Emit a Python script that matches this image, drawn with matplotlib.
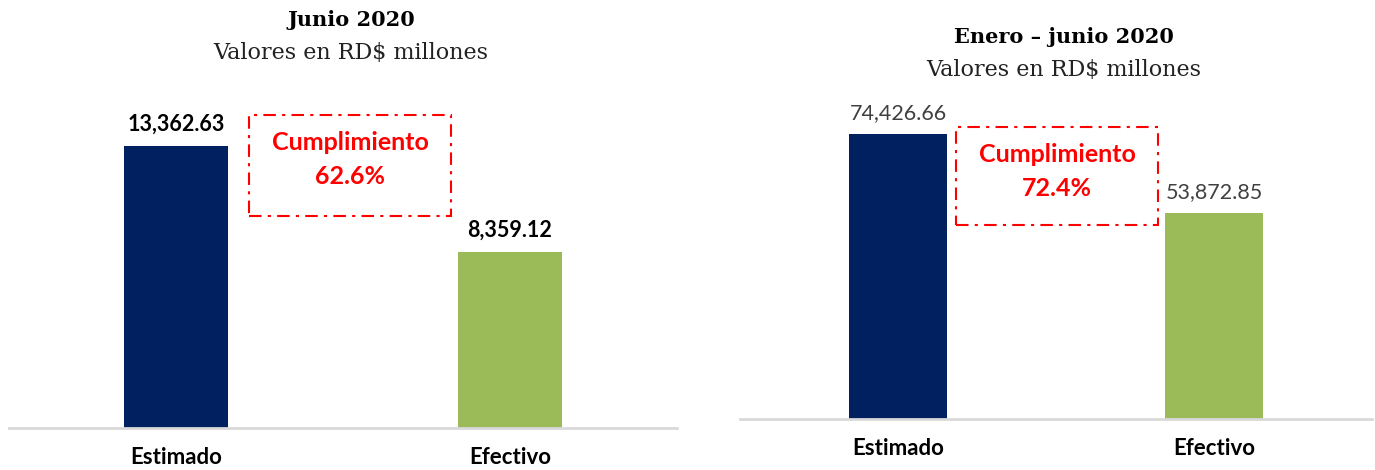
import matplotlib.pyplot as plt
from matplotlib.patches import Rectangle

# data
categories = ["Estimado", "Efectivo"]
junio_vals = [13362.63, 8359.12]
enero_junio_vals = [74426.66, 53872.85]
junio_cumpl = 62.6
enero_junio_cumpl = 72.4

navy = "#002060"
green = "#9BBB59"
red = "#FF0000"

W, H = 1375, 470
fig = plt.figure(figsize=(W / 100, H / 100), dpi=100)


def fx(x):
    return x / W


def fy(y):
    return 1 - y / H


def panel(x0, x1, base, top, vals, ymax, title, cumpl, box, title_y, bold_vals):
    ax = fig.add_axes([fx(x0), fy(base), fx(x1 - x0), (base - top) / H])
    bars = ax.bar(range(len(vals)), vals, width=0.31, color=[navy, green])
    ax.set_xlim(-0.5, 1.5)
    ax.set_ylim(0, ymax)
    for s in ["top", "right", "left"]:
        ax.spines[s].set_visible(False)
    ax.spines["bottom"].set_color("#D9D9D9")
    ax.spines["bottom"].set_linewidth(2)
    ax.set_yticks([])
    ax.set_xticks(range(len(vals)))
    ax.set_xticklabels(categories, fontsize=16, fontweight="bold", family="Lato")
    ax.tick_params(axis="x", length=0, pad=14)

    lbls = [f"{v:,.2f}" for v in vals]
    if bold_vals:
        ax.bar_label(bars, labels=lbls, padding=8, fontsize=15.5, fontweight="bold",
                     color="black", family="Lato")
    else:
        ax.bar_label(bars, labels=lbls, padding=8, fontsize=15.5,
                     color="#404040", family="Lato")

    cx = (x0 + x1) / 2 + 8
    fig.text(fx(cx), fy(title_y), title, ha="center", va="center",
             fontsize=15, fontweight="bold", family="DejaVu Serif")
    fig.text(fx(cx), fy(title_y + 33), "Valores en RD$ millones", ha="center",
             va="center", fontsize=16, family="DejaVu Serif", color="#222222")

    bx0, by0, bx1, by1 = box
    fig.patches.append(Rectangle((fx(bx0), fy(by1)), fx(bx1 - bx0), (by1 - by0) / H,
                                 transform=fig.transFigure, fill=False,
                                 edgecolor=red, lw=1.5,
                                 linestyle=(0, (6, 3, 1.5, 3))))
    bcx = (bx0 + bx1) / 2
    fig.text(fx(bcx), fy(by0 + 28), "Cumplimiento", ha="center", va="center",
             fontsize=18, fontweight="bold", color=red, family="Lato")
    fig.text(fx(bcx), fy(by0 + 61), f"{cumpl}%", ha="center", va="center",
             fontsize=18, fontweight="bold", color=red, family="Lato")
    return ax


panel(9, 677, 428, 100, junio_vals, 15542, "Junio 2020", junio_cumpl,
      (249, 115, 451, 216), 20, True)
panel(740, 1372, 419, 100, enero_junio_vals, 83306, "Enero – junio 2020",
      enero_junio_cumpl, (956, 127, 1158, 225), 37, False)

fig.savefig("out.png", dpi=100)
